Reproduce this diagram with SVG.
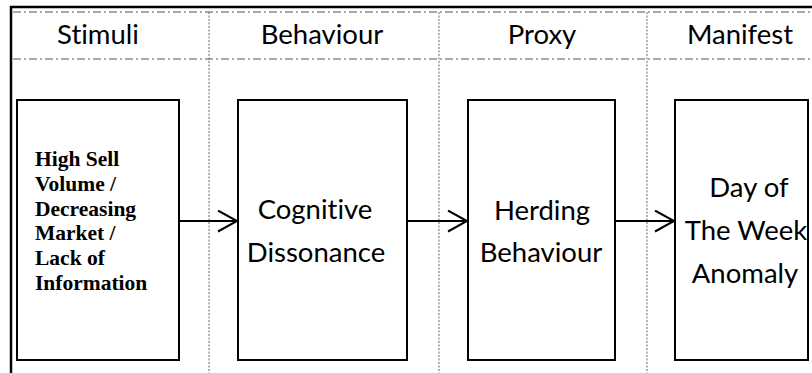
<svg xmlns="http://www.w3.org/2000/svg" width="812" height="373" viewBox="0 0 812 373">
<style>
.frame{stroke:#000;stroke-width:2.5;fill:none}
.dashdot{stroke:#555;stroke-width:1.2;stroke-dasharray:8 3 2 3;fill:none}
.dotted{stroke:#666;stroke-width:1;stroke-dasharray:2 1.5;fill:none}
.box{fill:#fff;stroke:#000;stroke-width:2}
.hdr,.lbl{font-family:Lato,"Open Sans",sans-serif;font-size:27.5px;fill:#000;text-anchor:middle;font-variant-ligatures:none}
.serif{font-family:"Liberation Serif","Times New Roman",serif;font-size:21.5px;font-weight:bold;fill:#000}
.conn{stroke:#000;stroke-width:2;fill:none}
</style>
<defs>
<marker id="head" markerUnits="userSpaceOnUse" markerWidth="24" markerHeight="26" refX="20" refY="11" orient="auto">
<path d="M1,0.5 L20,11 L1,21.5" fill="none" stroke="#000" stroke-width="2"/>
</marker>
</defs>
<rect width="812" height="373" fill="#fff"/>
<g id="frame">
<line class="frame" x1="10" y1="7" x2="812" y2="7"/>
<line class="frame" x1="11" y1="6" x2="11" y2="373"/>
<line class="dashdot" x1="13" y1="12" x2="812" y2="12"/>
<line class="dashdot" x1="13" y1="59" x2="812" y2="59"/>
<line class="dotted" x1="209" y1="12" x2="209" y2="373"/>
<line class="dotted" x1="439" y1="12" x2="439" y2="373"/>
<line class="dotted" x1="647" y1="12" x2="647" y2="373"/>
</g>
<g id="headers">
<text class="hdr" x="98" y="44">Stimuli</text>
<text class="hdr" x="322" y="44">Behaviour</text>
<text class="hdr" x="542" y="44">Proxy</text>
<text class="hdr" x="740" y="44">Manifest</text>
</g>
<g id="connectors">
<line class="conn" x1="179" y1="221" x2="237" y2="221" marker-end="url(#head)"/>
<line class="conn" x1="407" y1="221" x2="467" y2="221" marker-end="url(#head)"/>
<line class="conn" x1="615" y1="221" x2="674" y2="221" marker-end="url(#head)"/>
</g>
<g id="stimuli">
<rect class="box" x="17" y="100" width="162" height="260"/>
<text class="serif" x="35" y="166">High Sell</text>
<text class="serif" x="35" y="191">Volume /</text>
<text class="serif" x="35" y="216">Decreasing</text>
<text class="serif" x="35" y="240">Market /</text>
<text class="serif" x="35" y="265">Lack of</text>
<text class="serif" x="35" y="290">Information</text>
</g>
<g id="cognitive">
<rect class="box" x="238" y="100" width="169" height="260"/>
<text class="lbl" x="315" y="219">Cognitive</text>
<text class="lbl" x="316" y="262">Dissonance</text>
</g>
<g id="herding">
<rect class="box" x="468" y="100" width="147" height="260"/>
<text class="lbl" x="542" y="220">Herding</text>
<text class="lbl" x="541" y="262">Behaviour</text>
</g>
<g id="anomaly">
<rect class="box" x="675" y="100" width="133" height="260"/>
<text class="lbl" x="749" y="197">Day of</text>
<text class="lbl" x="746" y="240">The Week</text>
<text class="lbl" x="745" y="283">Anomaly</text>
</g>
</svg>
